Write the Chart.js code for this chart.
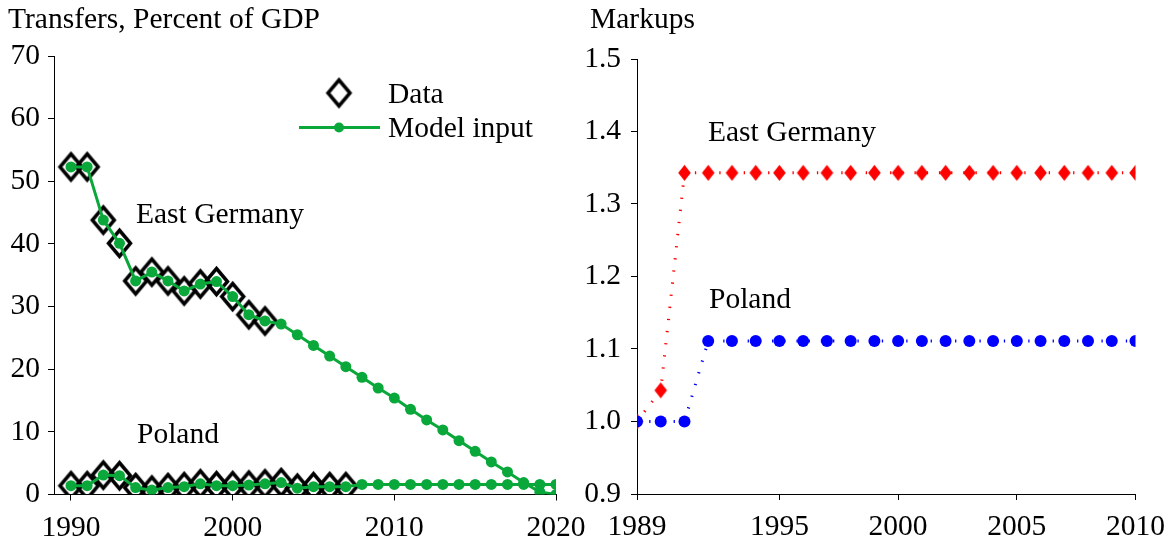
<!DOCTYPE html>
<html><head><meta charset="utf-8">
<script src="https://cdn.jsdelivr.net/npm/chart.js@4.4.1/dist/chart.umd.min.js"></script>
<style>
html,body{margin:0;padding:0;background:#fff;width:1175px;height:544px;overflow:hidden}
#wa{position:absolute;left:0;top:0;width:600px;height:544px}
#wb{position:absolute;left:580px;top:0;width:595px;height:544px}
</style></head><body>
<div id="wa"><canvas id="ca"></canvas></div>
<div id="wb"><canvas id="cb"></canvas></div>
<script>
// ---------- data: left panel (transfers, % of GDP) ----------
const transferYears = [1990,1991,1992,1993,1994,1995,1996,1997,1998,1999,2000,2001,2002,2003,2004,2005,2006,2007,2008,2009,2010,2011,2012,2013,2014,2015,2016,2017,2018,2019,2020];
const egModel = [52.3,52.3,43.8,40.1,34.1,35.5,34.1,32.5,33.6,34.0,31.6,28.7,27.7,27.2,25.5,23.8,22.1,20.4,18.7,17.0,15.4,13.6,11.9,10.3,8.6,6.9,5.2,3.6,1.9,0.4,0.0];
const plModel = [1.4,1.4,3.1,3.0,1.1,0.7,1.1,1.25,1.7,1.4,1.4,1.5,1.7,1.9,1.0,1.25,1.25,1.25,1.6,1.6,1.6,1.6,1.6,1.6,1.6,1.6,1.6,1.6,1.6,1.6,1.6];
const egDataYears = [1990,1991,1992,1993,1994,1995,1996,1997,1998,1999,2000,2001,2002];
const egData = [52.3,52.3,43.8,40.1,34.1,35.5,34.1,32.5,33.6,34.0,31.6,28.7,27.7];
const plDataYears = [1990,1991,1992,1993,1994,1995,1996,1997,1998,1999,2000,2001,2002,2003,2004,2005,2006,2007];
const plData = [1.4,1.4,3.1,3.0,1.1,0.7,1.1,1.25,1.7,1.4,1.4,1.5,1.7,1.9,1.0,1.25,1.25,1.25];
const transferXTicks = [1990,2000,2010,2020];
const transferYTicks = [0,10,20,30,40,50,60,70];

// ---------- data: right panel (markups) ----------
const markupYears = [1989,1990,1991,1992,1993,1994,1995,1996,1997,1998,1999,2000,2001,2002,2003,2004,2005,2006,2007,2008,2009,2010];
const egMarkup = [1.0,1.043,1.343,1.343,1.343,1.343,1.343,1.343,1.343,1.343,1.343,1.343,1.343,1.343,1.343,1.343,1.343,1.343,1.343,1.343,1.343,1.343];
const plMarkup = [1.0,1.0,1.0,1.111,1.111,1.111,1.111,1.111,1.111,1.111,1.111,1.111,1.111,1.111,1.111,1.111,1.111,1.111,1.111,1.111,1.111,1.111];
const markupXTicks = [1989,1995,2000,2005,2010];
const markupYTicks = [0.9,1.0,1.1,1.2,1.3,1.4,1.5];

const FONT = '"Liberation Serif", "Times New Roman", serif';
const FSIZE = 29.5;
const GREEN = '#0aa83a';

function pts(xs, ys){ return xs.map((x,i)=>({x:x, y:ys[i]})); }

function diamondCanvas(hw, hh, lw, stroke, fill){
  const c = document.createElement('canvas');
  const pad = lw + 3;
  c.width = Math.ceil(2*hw + 2*pad);
  c.height = Math.ceil(2*hh + 2*pad);
  const g = c.getContext('2d');
  const cx = c.width/2, cy = c.height/2;
  g.beginPath();
  g.moveTo(cx, cy-hh); g.lineTo(cx+hw, cy); g.lineTo(cx, cy+hh); g.lineTo(cx-hw, cy); g.closePath();
  if (fill){ g.fillStyle = fill; g.fill(); }
  if (stroke){ g.lineJoin='miter'; g.lineWidth = lw; g.strokeStyle = stroke; g.stroke(); }
  return c;
}
const blackDiamond = diamondCanvas(11, 13, 3.5, '#000', null);
const redDiamond = diamondCanvas(6.3, 8, 0, null, '#ff0000');

function axisCommon(){
  return {
    grid:{drawOnChartArea:false, drawTicks:true, tickLength:6, color:'#000', lineWidth:1},
    border:{display:true, color:'#000', width:1},
  };
}

const textPluginA = {
  id:'textA',
  afterDraw(chart){
    const ctx = chart.ctx;
    ctx.save();
    ctx.font = FSIZE + 'px ' + FONT;
    ctx.fillStyle = '#000';
    ctx.textBaseline = 'alphabetic';
    ctx.textAlign = 'left';
    ctx.fillText('Transfers, Percent of GDP', 8, 28);
    ctx.fillText('East Germany', 136, 223);
    ctx.fillText('Poland', 137, 443);
    // legend
    ctx.drawImage(blackDiamond, 339 - blackDiamond.width/2, 93 - blackDiamond.height/2);
    ctx.fillText('Data', 388, 103);
    ctx.strokeStyle = GREEN; ctx.lineWidth = 3;
    ctx.beginPath(); ctx.moveTo(299, 127.5); ctx.lineTo(380, 127.5); ctx.stroke();
    ctx.fillStyle = GREEN;
    ctx.beginPath(); ctx.arc(339, 127.5, 5, 0, Math.PI*2); ctx.fill();
    ctx.fillStyle = '#000';
    ctx.fillText('Model input', 388, 137);
    ctx.restore();
  }
};

const textPluginB = {
  id:'textB',
  afterDraw(chart){
    const ctx = chart.ctx;
    ctx.save();
    ctx.font = FSIZE + 'px ' + FONT;
    ctx.fillStyle = '#000';
    ctx.textBaseline = 'alphabetic';
    ctx.textAlign = 'left';
    ctx.fillText('Markups', 10, 28);
    ctx.fillText('East Germany', 128, 141);
    ctx.fillText('Poland', 129, 308);
    ctx.restore();
  }
};

new Chart(document.getElementById('ca'), {
  type:'scatter',
  data:{datasets:[
    {label:'EG model', data:pts(transferYears, egModel), showLine:true, borderColor:GREEN, borderWidth:3,
     pointRadius:5.5, pointBackgroundColor:GREEN, pointBorderWidth:0, pointHoverRadius:5.5},
    {label:'PL model', data:pts(transferYears, plModel), showLine:true, borderColor:GREEN, borderWidth:3,
     pointRadius:5.5, pointBackgroundColor:GREEN, pointBorderWidth:0, pointHoverRadius:5.5},
    {label:'EG data', data:pts(egDataYears, egData), showLine:false, pointStyle:blackDiamond, pointRadius:12, pointHoverRadius:12},
    {label:'PL data', data:pts(plDataYears, plData), showLine:false, pointStyle:blackDiamond, pointRadius:12, pointHoverRadius:12},
  ]},
  options:{
    responsive:true, maintainAspectRatio:false, animation:false, devicePixelRatio:1,
    layout:{padding:{left:0, top:56, right:44, bottom:0}},
    plugins:{legend:{display:false}, tooltip:{enabled:false}, title:{display:false}},
    scales:{
      x:Object.assign(axisCommon(), {
        type:'linear', min:1988.95, max:2020,
        afterBuildTicks:(s)=>{ s.ticks = transferXTicks.map(v=>({value:v})); },
        afterFit:(s)=>{ s.height = 49.5; },
        ticks:{font:{family:FONT, size:FSIZE}, color:'#000', padding:10, autoSkip:false, maxRotation:0, callback:(v)=>String(v)}
      }),
      y:Object.assign(axisCommon(), {
        type:'linear', min:0, max:70,
        afterBuildTicks:(s)=>{ s.ticks = transferYTicks.map(v=>({value:v})); },
        afterFit:(s)=>{ s.width = 54; },
        ticks:{font:{family:FONT, size:FSIZE}, color:'#000', padding:8, autoSkip:false, callback:(v)=>String(v)}
      })
    }
  },
  plugins:[textPluginA]
});

new Chart(document.getElementById('cb'), {
  type:'scatter',
  data:{datasets:[
    {label:'Poland', data:pts(markupYears, plMarkup), showLine:true, borderColor:'#0000ff', borderWidth:3,
     borderDash:[1.3,10.9], pointRadius:6, pointBackgroundColor:'#0000ff', pointBorderWidth:0, pointHoverRadius:6},
    {label:'East Germany', data:pts(markupYears, egMarkup), showLine:true, borderColor:'#ff0000', borderWidth:3,
     borderDash:[1.3,10.9], pointStyle:redDiamond, pointRadius:8, pointHoverRadius:8},
  ]},
  options:{
    responsive:true, maintainAspectRatio:false, animation:false, devicePixelRatio:1,
    layout:{padding:{left:0, top:59, right:38, bottom:0}},
    plugins:{legend:{display:false}, tooltip:{enabled:false}, title:{display:false}},
    scales:{
      x:Object.assign(axisCommon(), {
        type:'linear', min:1989, max:2010,
        afterBuildTicks:(s)=>{ s.ticks = markupXTicks.map(v=>({value:v})); },
        afterFit:(s)=>{ s.height = 50; },
        ticks:{font:{family:FONT, size:FSIZE}, color:'#000', padding:10, autoSkip:false, maxRotation:0, callback:(v)=>String(v)}
      }),
      y:Object.assign(axisCommon(), {
        type:'linear', min:0.9, max:1.5,
        afterBuildTicks:(s)=>{ s.ticks = markupYTicks.map(v=>({value:v})); },
        afterFit:(s)=>{ s.width = 57; },
        ticks:{font:{family:FONT, size:FSIZE}, color:'#000', padding:10, autoSkip:false, callback:(v)=>Number(v).toFixed(1)}
      })
    }
  },
  plugins:[textPluginB]
});
</script>
</body></html>
